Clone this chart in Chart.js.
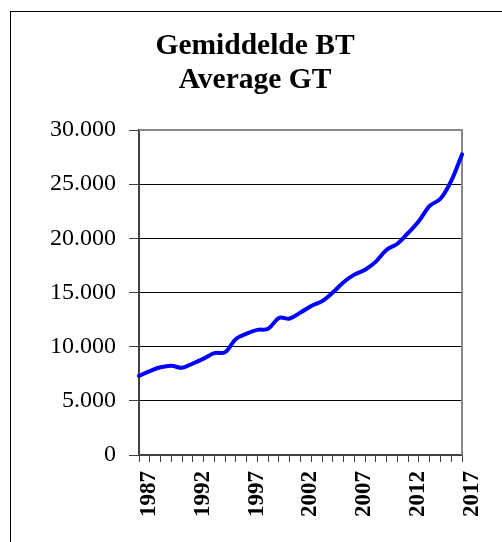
<!DOCTYPE html>
<html>
<head>
<meta charset="utf-8">
<script src="https://cdn.jsdelivr.net/npm/chart.js@4.4.1/dist/chart.umd.min.js"></script>
<style>
  html, body { margin: 0; padding: 0; background: #ffffff; }
  #wrap { position: relative; width: 502px; height: 542px; }
  canvas { display: block; }
</style>
</head>
<body>
<div id="wrap"><canvas id="c" width="502" height="542"></canvas></div>
<script>
// ---- data ----
const titleLines = ['Gemiddelde BT', 'Average GT'];
const years = ['1987','1988','1989','1990','1991','1992','1993','1994','1995','1996',
               '1997','1998','1999','2000','2001','2002','2003','2004','2005','2006',
               '2007','2008','2009','2010','2011','2012','2013','2014','2015','2016','2017'];
const averageGT = [7300, 7750, 8100, 8250, 8050, 8450, 8900, 9400, 9500, 10700,
                   11200, 11550, 11650, 12650, 12600, 13150, 13750, 14200, 15000, 15950,
                   16650, 17100, 17850, 18950, 19500, 20500, 21600, 23000, 23650, 25300, 27750];
const xTickLabels = ['1987','1992','1997','2002','2007','2012','2017'];
const yMin = 0, yMax = 30000, yStep = 5000;

function fmtThousands(v) {
  return String(Math.round(v)).replace(/\B(?=(\d{3})+(?!\d))/g, '.');
}

const framePlugin = {
  id: 'frame',
  beforeDraw(chart) {
    const ctx = chart.ctx;
    ctx.save();
    ctx.fillStyle = '#ffffff';
    ctx.fillRect(0, 0, chart.width, chart.height);
    ctx.strokeStyle = '#000000';
    ctx.lineWidth = 1;
    ctx.strokeRect(10.5, 11.5, 700, 700);
    ctx.restore();
  },
  beforeDatasetsDraw(chart) {
    const a = chart.chartArea;
    const ctx = chart.ctx;
    ctx.save();
    ctx.strokeStyle = '#888888';
    ctx.lineWidth = 2;
    ctx.beginPath();
    ctx.moveTo(a.left, a.top);
    ctx.lineTo(a.right, a.top);
    ctx.lineTo(a.right, a.bottom);
    ctx.stroke();
    ctx.restore();
  }
};

new Chart(document.getElementById('c'), {
  type: 'line',
  data: {
    labels: years,
    datasets: [{
      data: averageGT,
      borderColor: '#0000ff',
      borderWidth: 4,
      pointRadius: 0,
      tension: 0.35,
      fill: false,
      borderCapStyle: 'round',
      borderJoinStyle: 'round'
    }]
  },
  plugins: [framePlugin],
  options: {
    responsive: false,
    animation: false,
    devicePixelRatio: 1,
    layout: { padding: { left: 48, right: 40, top: 0, bottom: 0 } },
    plugins: {
      legend: { display: false },
      tooltip: { enabled: false },
      title: {
        display: true,
        text: titleLines,
        color: '#000000',
        font: { family: '"Liberation Serif", "Times New Roman", serif', size: 29.5, weight: 'bold', lineHeight: 1.136 },
        padding: { top: 30, bottom: 33 }
      }
    },
    scales: {
      x: {
        type: 'category',
        offset: false,
        afterFit(axis) { axis.height = 87; },
        border: { display: true, color: '#404040', width: 2 },
        grid: { drawOnChartArea: false, drawTicks: true, tickLength: 7, color: '#404040', lineWidth: 1 },
        ticks: {
          autoSkip: false,
          minRotation: 90,
          maxRotation: 90,
          padding: 9,
          labelOffset: 10,
          color: '#000000',
          font: { family: '"Liberation Serif", "Times New Roman", serif', size: 23, weight: 'bold' },
          callback(value, index) {
            const lab = years[index];
            return xTickLabels.includes(lab) ? lab : '';
          }
        }
      },
      y: {
        min: yMin,
        max: yMax,
        afterFit(axis) { axis.width = 91; },
        border: { display: true, color: '#404040', width: 2 },
        grid: { drawOnChartArea: true, drawTicks: true, tickLength: 10, color: '#000000', tickColor: '#404040', lineWidth: 1 },
        ticks: {
          stepSize: yStep,
          padding: 13,
          color: '#000000',
          font: { family: '"Liberation Serif", "Times New Roman", serif', size: 24 },
          callback(v) { return fmtThousands(v); }
        }
      }
    }
  }
});
</script>
</body>
</html>
